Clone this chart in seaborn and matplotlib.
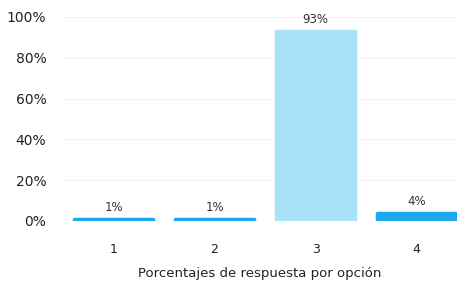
import matplotlib
matplotlib.use("Agg")
import matplotlib.pyplot as plt
import seaborn as sns
import pandas as pd

# Data
opciones = ["1", "2", "3", "4"]
porcentajes = [1, 1, 93, 4]
etiquetas = ["1%", "1%", "93%", "4%"]
colores = ["#1aa8ee", "#1aa8ee", "#a8e2f9", "#1aa8ee"]
yticks = [0, 20, 40, 60, 80, 100]

df = pd.DataFrame({"opcion": opciones, "pct": porcentajes})

sns.set_style("white")
plt.rcParams["font.family"] = ["DejaVu Sans"]

fig = plt.figure(figsize=(4.57, 2.90), dpi=100)
ax = fig.add_axes([63 / 457, (290 - 221) / 290, 1 - 63 / 457, (221 - 17) / 290])

sns.barplot(data=df, x="opcion", y="pct", hue="opcion", palette=colores,
            legend=False, width=0.78, ax=ax, saturation=1)

# bars drawn with a same-colour rounded outline, like the thick strokes in the original
for p in ax.patches:
    p.set_edgecolor(p.get_facecolor())
    p.set_linewidth(2.5)
    p.set_joinstyle("round")

for p, lab in zip(ax.patches, etiquetas):
    ax.text(p.get_x() + p.get_width() / 2, p.get_height() + 2.5, lab,
            ha="center", va="bottom", fontsize=8.5, color="#333333")

ax.set_ylim(0, 100)
ax.set_xlim(-0.5, 3.4)
ax.set_yticks(yticks)
ax.set_yticklabels([f"{v}%" for v in yticks], fontsize=10, color="#222222")
ax.tick_params(axis="x", labelsize=9, colors="#222222", pad=16, length=0)
ax.tick_params(axis="y", pad=12, length=0)
ax.yaxis.grid(True, color="#f3f3f3", linewidth=0.8)
ax.set_axisbelow(True)
ax.set_xlabel("Porcentajes de respuesta por opción", fontsize=9.5,
              color="#222222", labelpad=8)
ax.set_ylabel("")
sns.despine(ax=ax, left=True, bottom=True)

fig.savefig("out.png", dpi=100)
